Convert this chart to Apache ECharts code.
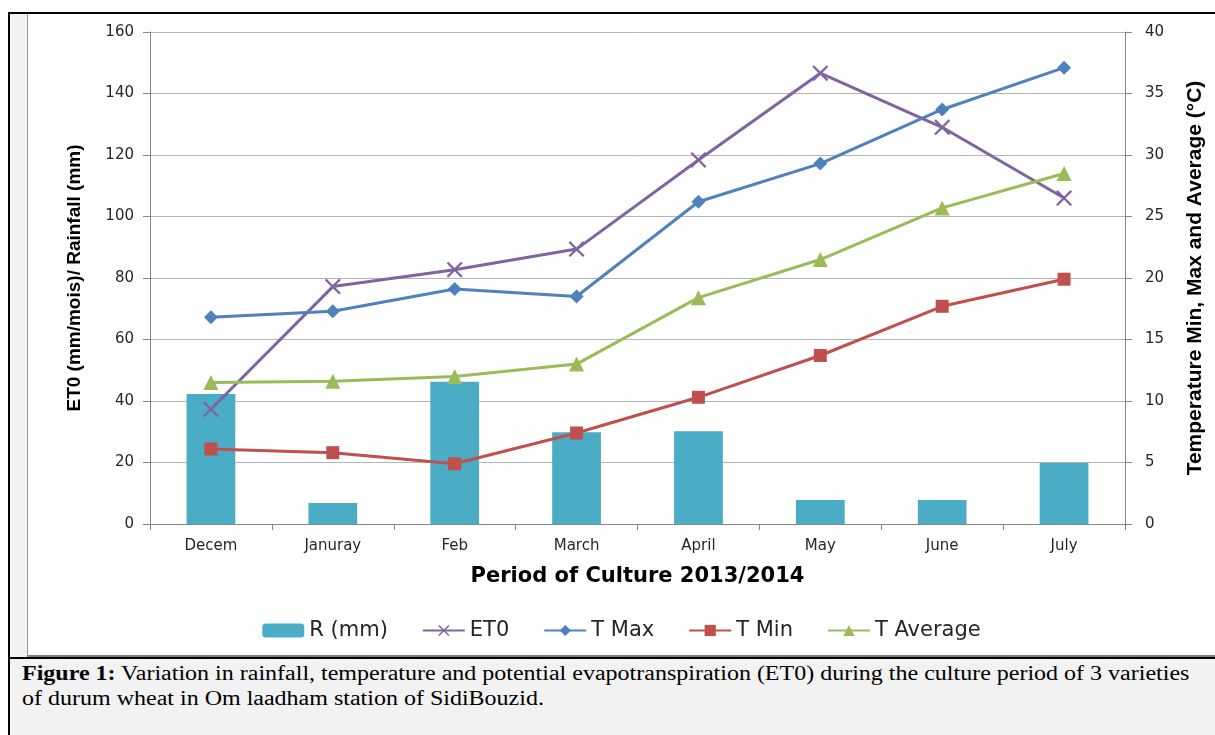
<!DOCTYPE html>
<html>
<head>
<meta charset="utf-8">
<script src="https://cdn.jsdelivr.net/npm/echarts@6/dist/echarts.min.js"></script>
<style>
  html, body { margin:0; padding:0; width:1215px; height:735px; background:#ffffff; overflow:hidden; }
  #outer { position:absolute; left:8px; top:12px; width:1207px; height:723px; background:#f2f2f2;
           border-top:2px solid #000; border-left:2px solid #000; box-sizing:border-box; }
  #box { position:absolute; left:27px; top:14px; width:1188px; height:643px; background:#fff;
         border-left:1px solid #9a9a9a; border-bottom:2px solid #7f7f7f; box-sizing:border-box; }
  #sep { position:absolute; left:8px; top:657px; width:1207px; height:2px; background:#000; }
  #chart { position:absolute; left:28px; top:14px; width:1187px; height:641px; }
  #caption { position:absolute; left:22px; top:661px; font-family:"Liberation Serif","Times New Roman",serif;
             font-size:20px; line-height:25px; color:#000; white-space:nowrap;
             transform:scaleX(1.2); transform-origin:0 0; }
</style>
</head>
<body>
<div id="outer"></div>
<div id="box"></div>
<div id="sep"></div>
<div id="chart"></div>
<div id="caption"><b>Figure 1:</b> Variation in rainfall, temperature and potential evapotranspiration (ET0) during the culture period of 3 varieties<br>of durum wheat in Om laadham station of SidiBouzid.</div>
<script>
const categories = ["Decem", "Januray", "Feb", "March", "April", "May", "June", "July"];
const rain = [42.3, 6.8, 46.3, 29.8, 30.2, 7.8, 7.8, 19.8];
const eto  = [37.3, 77.2, 82.7, 89.4, 118.4, 146.6, 129.0, 106.0];
const tmax = [16.8, 17.3, 19.1, 18.5, 26.2, 29.3, 33.7, 37.1];
const tmin = [6.1, 5.8, 4.9, 7.4, 10.3, 13.7, 17.7, 19.9];
const tavg = [11.5, 11.6, 12.0, 13.0, 18.4, 21.5, 25.7, 28.5];

const crossPath = 'path://M0,1 L1,0 L5,4 L9,0 L10,1 L6,5 L10,9 L9,10 L5,6 L1,10 L0,9 L4,5 Z';
const axisFont = { fontFamily: 'DejaVu Sans', fontSize: 15, color: '#262626' };

const chart = echarts.init(document.getElementById('chart'), null, { renderer: 'canvas' });
chart.setOption({
  animation: false,
  backgroundColor: 'transparent',
  grid: { left: 122, top: 18, width: 975, height: 492 },
  legend: {
    top: 601, left: 'center', itemWidth: 42, itemHeight: 14, itemGap: 34,
    textStyle: { fontFamily: 'DejaVu Sans', fontSize: 21, color: '#262626' },
    data: ['R (mm)', 'ET0', 'T Max', 'T Min', 'T Average']
  },
  xAxis: {
    type: 'category', data: categories, boundaryGap: true,
    axisLine: { lineStyle: { color: '#868686', width: 1 } },
    axisTick: { show: true, length: 6, lineStyle: { color: '#868686' } },
    axisLabel: Object.assign({ margin: 15 }, axisFont),
    name: 'Period of Culture 2013/2014', nameLocation: 'middle', nameGap: 42,
    nameTextStyle: { fontFamily: 'DejaVu Sans', fontWeight: 'bold', fontSize: 21, color: '#000' }
  },
  yAxis: [
    {
      type: 'value', min: 0, max: 160, interval: 20, position: 'left',
      axisLine: { show: true, lineStyle: { color: '#868686' } },
      axisTick: { show: true, length: 7, lineStyle: { color: '#868686' } },
      axisLabel: Object.assign({ margin: 16 }, axisFont),
      splitLine: { show: true, lineStyle: { color: '#b5b5b5', width: 1 } },
      name: 'ET0 (mm/mois)/ Rainfall (mm)', nameLocation: 'middle', nameGap: 66, nameRotate: 90,
      nameTextStyle: { fontFamily: 'Liberation Sans', fontWeight: 'bold', fontSize: 19, color: '#000' }
    },
    {
      type: 'value', min: 0, max: 40, interval: 5, position: 'right',
      axisLine: { show: true, lineStyle: { color: '#868686' } },
      axisTick: { show: true, length: 7, lineStyle: { color: '#868686' } },
      axisLabel: Object.assign({ margin: 20 }, axisFont),
      splitLine: { show: false },
      name: 'Temperature Min, Max and Average (°C)', nameLocation: 'middle', nameGap: 60, nameRotate: 90,
      nameTextStyle: { fontFamily: 'Liberation Sans', fontWeight: 'bold', fontSize: 21, color: '#000' }
    }
  ],
  series: [
    { name: 'R (mm)', type: 'bar', yAxisIndex: 0, data: rain, barWidth: '40%',
      itemStyle: { color: '#4bacc6' }, z: 1 },
    { name: 'ET0', type: 'line', yAxisIndex: 0, data: eto, symbol: crossPath, symbolSize: 16,
      lineStyle: { color: '#8064a2', width: 3 }, itemStyle: { color: '#8064a2' }, z: 3 },
    { name: 'T Max', type: 'line', yAxisIndex: 1, data: tmax, symbol: 'diamond', symbolSize: 14,
      lineStyle: { color: '#4f81bd', width: 3 }, itemStyle: { color: '#4f81bd' }, z: 3 },
    { name: 'T Min', type: 'line', yAxisIndex: 1, data: tmin, symbol: 'rect', symbolSize: 13,
      lineStyle: { color: '#c0504d', width: 3 }, itemStyle: { color: '#c0504d' }, z: 3 },
    { name: 'T Average', type: 'line', yAxisIndex: 1, data: tavg, symbol: 'triangle', symbolSize: 15,
      lineStyle: { color: '#9bbb59', width: 3 }, itemStyle: { color: '#9bbb59' }, z: 3 }
  ]
});
</script>
</body>
</html>
